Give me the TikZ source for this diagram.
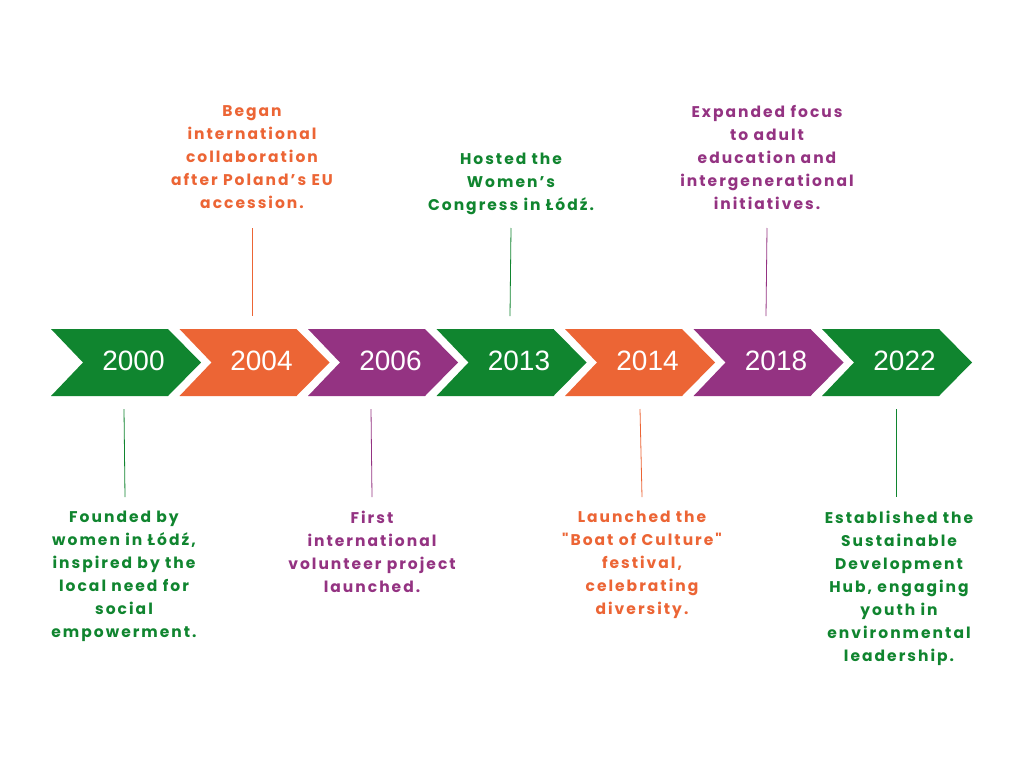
\documentclass[tikz,border=0pt]{standalone}
\usepackage{fontspec}
\usepackage{tikz}
\newfontfamily\descfont{Poppins}[LetterSpace=13]
\newfontfamily\yearfont{Liberation Sans}
\definecolor{tlgreen}{RGB}{16,133,47}
\definecolor{tlorange}{RGB}{236,101,53}
\definecolor{tlpurple}{RGB}{148,51,130}
\tikzstyle{edge}=[
	-,
	line width=0.8pt
]
\tikzstyle{year}=[
    text=white,
    font=\yearfont\fontsize{28}{30}\selectfont,
    inner sep=0pt
]
\tikzstyle{desc}=[
    font=\descfont\bfseries\fontsize{15.5}{23}\selectfont,
    align=center,
    inner sep=0pt
]
% one arrow of the time line, from its left edge
\newcommand{\chevron}[2]{\fill[#2] (#1,329) -- ++(117,0) -- ++(33,33.5) -- ++(-33,33.5) -- ++(-117,0) -- ++(32,-33.5) -- cycle;}

\begin{document}
\begin{tikzpicture}[x=1pt,y=-1pt]
\useasboundingbox[fill=white] (0,0) rectangle (1024,768);

\chevron{51}{tlgreen}
\chevron{179.5}{tlorange}
\chevron{308}{tlpurple}
\chevron{436.5}{tlgreen}
\chevron{565}{tlorange}
\chevron{693.5}{tlpurple}
\chevron{822}{tlgreen}

\node[year] (y2000) at (133.5,361) {2000};
\node[year] (y2004) at (261.5,361) {2004};
\node[year] (y2006) at (390.5,361) {2006};
\node[year] (y2013) at (519,361) {2013};
\node[year] (y2014) at (647.5,361) {2014};
\node[year] (y2018) at (776,361) {2018};
\node[year] (y2022) at (904.5,361) {2022};

\node[desc, text=tlgreen, anchor=north] (d2000) at (124,511) {Founded by\\women in Łódź,\\inspired by the\\local need for\\social\\empowerment.};
\node[desc, text=tlorange, anchor=north] (d2004) at (252,105) {Began\\international\\collaboration\\after Poland’s EU\\accession.};
\node[desc, text=tlpurple, anchor=north] (d2006) at (372,511) {First\\international\\volunteer project\\launched.};
\node[desc, text=tlgreen, anchor=north] (d2013) at (511,153) {Hosted the\\Women’s\\Congress in Łódź.};
\node[desc, text=tlorange, anchor=north] (d2014) at (642,511) {Launched the\\"Boat of Culture"\\festival,\\celebrating\\diversity.};
\node[desc, text=tlpurple, anchor=north] (d2018) at (767,105) {Expanded focus\\to adult\\education and\\intergenerational\\initiatives.};
\node[desc, text=tlgreen, anchor=north] (d2022) at (899,511) {Established the\\Sustainable\\Development\\Hub, engaging\\youth in\\environmental\\leadership.};

\coordinate (a2000) at (124,409);
\coordinate (b2000) at (125,497);
\coordinate (a2004) at (252,228);
\coordinate (b2004) at (252,316);
\coordinate (a2006) at (371,409);
\coordinate (b2006) at (372,497);
\coordinate (a2013) at (511,228);
\coordinate (b2013) at (510,316);
\coordinate (a2014) at (640,409);
\coordinate (b2014) at (642,497);
\coordinate (a2018) at (767,228);
\coordinate (b2018) at (766,316);
\coordinate (a2022) at (896,409);
\coordinate (b2022) at (896,497);

\draw[edge, tlgreen] (a2000) -- (b2000);
\draw[edge, tlorange] (a2004) -- (b2004);
\draw[edge, tlpurple] (a2006) -- (b2006);
\draw[edge, tlgreen] (a2013) -- (b2013);
\draw[edge, tlorange] (a2014) -- (b2014);
\draw[edge, tlpurple] (a2018) -- (b2018);
\draw[edge, tlgreen] (a2022) -- (b2022);

\end{tikzpicture}
\end{document}
